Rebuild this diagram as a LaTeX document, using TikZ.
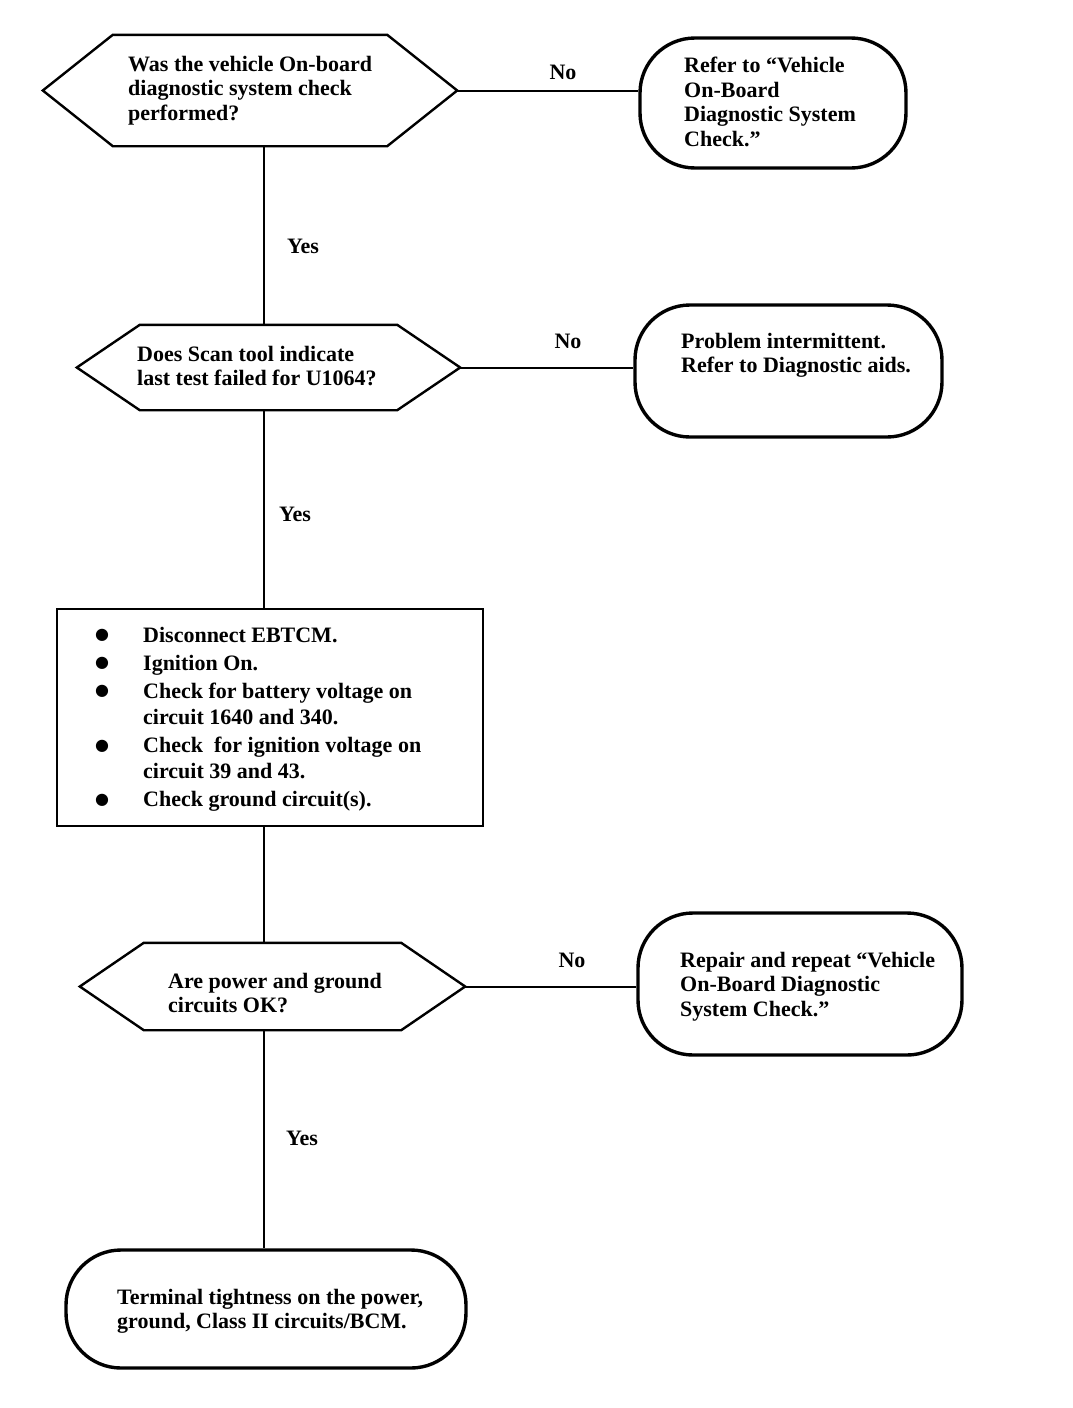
\documentclass[tikz,border=0pt]{standalone}
\usepackage{fontspec}
\setmainfont{Liberation Serif}
\newfontfamily\symfont{DejaVu Sans}
\usetikzlibrary{calc}

\tikzset{
  % text inside the shapes
  txt/.style={font=\fontsize{22}{24.5}\selectfont\bfseries, align=left, anchor=north west, inner sep=0pt},
  % Yes / No labels
  lbl/.style={font=\fontsize{22}{24.5}\selectfont\bfseries, inner sep=0pt},
  % question box (hexagon drawn around it)
  question/.style={rectangle, draw=none, inner sep=0pt},
  hexline/.style={line width=2.4pt, line join=miter},
  % rounded end boxes
  terminal/.style={rectangle, draw, line width=3.4pt, rounded corners=55pt, inner sep=0pt},
  % action box
  stepbox/.style={rectangle, draw, line width=1.8pt, inner sep=0pt},
  conn/.style={line width=2pt},
}

% hexagon round a question node: name, inset
\newcommand{\drawhex}[2]{%
  \draw[hexline] (#1.west) -- ($(#1.north west)+(#2,0)$) -- ($(#1.north east)+(-#2,0)$)
    -- (#1.east) -- ($(#1.south east)+(-#2,0)$) -- ($(#1.south west)+(#2,0)$) -- cycle;}
% bullet of the check list
\newcommand{\itembul}{\makebox[48pt][l]{\raisebox{2.5pt}{\symfont\fontsize{16}{0}\selectfont ●}}}

\begin{document}
\begin{tikzpicture}[x=1pt, y=-1pt]
    \useasboundingbox (0,0) rectangle (1072,1408);
    \coordinate (spine) at (264,0);

    % Question 1
    \node[question, minimum width=414pt, minimum height=111pt] (q1) at (250,90.5) {};
    \drawhex{q1}{70}
    \node[txt] (q1txt) at (128,56) {Was the vehicle On-board\\diagnostic system check\\performed?};

    \node[terminal, minimum width=266pt, minimum height=130pt] (t1) at (773,103) {};
    \node[txt] (t1txt) at (684,57) {Refer to “Vehicle\\On-Board\\Diagnostic System\\Check.”};

    \draw[conn] (q1.east) -- (q1.east -| t1.west);
    \node[lbl] (no1) at (563,72) {No};

    % Question 2
    \node[question, minimum width=383pt, minimum height=85pt] (q2) at (268.5,367.5) {};
    \drawhex{q2}{63}
    \node[txt] (q2txt) at (137,346) {Does Scan tool indicate\\last test failed for U1064?};

    \node[terminal, minimum width=307pt, minimum height=132pt] (t2) at (788.5,371) {};
    \node[txt] (t2txt) at (681,333) {Problem intermittent.\\Refer to Diagnostic aids.};

    \draw[conn] (q1.south -| spine) -- (q2.north -| spine);
    \node[lbl] (yes1) at (303,246) {Yes};
    \draw[conn] (q2.east) -- (q2.east -| t2.west);
    \node[lbl] (no2) at (568,341) {No};

    % Checks
    \node[stepbox, minimum width=426pt, minimum height=217pt] (chk) at (270,717.5) {};
    \node[txt, font=\fontsize{22}{26}\selectfont\bfseries] (chktxt) at (95,627) {%
        \itembul Disconnect EBTCM.\\[2pt]
        \itembul Ignition On.\\[2pt]
        \itembul Check for battery voltage on\\
        \hspace*{48pt}circuit 1640 and 340.\\[2.5pt]
        \itembul Check\ \ for ignition voltage on\\
        \hspace*{48pt}circuit 39 and 43.\\[2pt]
        \itembul Check ground circuit(s).};

    \draw[conn] (q2.south -| spine) -- (chk.north -| spine);
    \node[lbl] (yes2) at (295,514) {Yes};

    % Question 3
    \node[question, minimum width=385pt, minimum height=87pt] (q3) at (272.5,986.5) {};
    \drawhex{q3}{64}
    \node[txt] (q3txt) at (168,973) {Are power and ground\\circuits OK?};

    \node[terminal, minimum width=324pt, minimum height=142pt] (t3) at (800,984) {};
    \node[txt] (t3txt) at (680,952) {Repair and repeat “Vehicle\\On-Board Diagnostic\\System Check.”};

    \draw[conn] (chk.south -| spine) -- (q3.north -| spine);
    \draw[conn] (q3.east) -- (q3.east -| t3.west);
    \node[lbl] (no3) at (572,960) {No};

    % End
    \node[terminal, minimum width=400pt, minimum height=118pt] (t4) at (266,1309) {};
    \node[txt] (t4txt) at (117,1289) {Terminal tightness on the power,\\ground, Class II circuits/BCM.};

    \draw[conn] (q3.south -| spine) -- (t4.north -| spine);
    \node[lbl] (yes3) at (302,1138) {Yes};
\end{tikzpicture}
\end{document}
